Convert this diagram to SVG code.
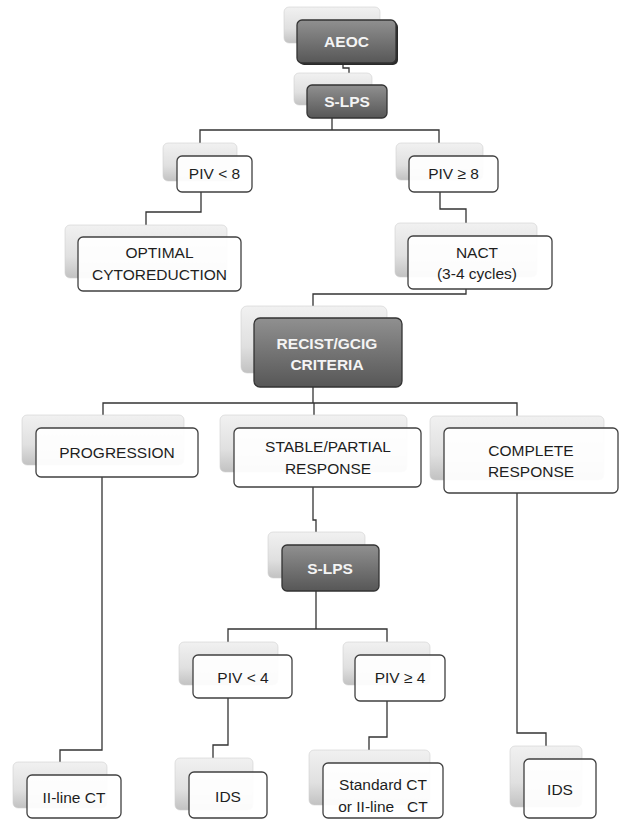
<svg xmlns="http://www.w3.org/2000/svg" width="621" height="820" viewBox="0 0 621 820">
<defs>
<linearGradient id="gShadow" x1="0" y1="0" x2="0" y2="1">
<stop offset="0" stop-color="#f1f1f1"/>
<stop offset="0.6" stop-color="#e0e0e0"/>
<stop offset="1" stop-color="#c2c2c2"/>
</linearGradient>
<linearGradient id="gDark" x1="0" y1="0" x2="0" y2="1">
<stop offset="0" stop-color="#909090"/>
<stop offset="1" stop-color="#575757"/>
</linearGradient>
</defs>
<style>
.sh{fill:url(#gShadow);stroke:#d0d0d0;stroke-width:0.6}
.fr{fill:#ffffff;fill-opacity:0.93;stroke:#404040;stroke-width:1.3}
.dk{fill:url(#gDark);stroke:#333333;stroke-width:1.3}
.t{font-family:"Liberation Sans",Arial,sans-serif;font-size:15.5px;fill:#1e1e1e;text-anchor:middle}
.tw{font-family:"Liberation Sans",Arial,sans-serif;font-size:15.5px;font-weight:bold;fill:#f4f4f4;text-anchor:middle}
.c{fill:none;stroke:#333333;stroke-width:1.3}
</style>
<rect width="621" height="820" fill="#ffffff"/>
<g id="connectors">
<path class="c" d="M343,63 V68 H349 V75"/>
<path class="c" d="M332,118 V130"/>
<path class="c" d="M200,143 V130 H439 V143"/>
<path class="c" d="M201,192 V212 H146 V225"/>
<path class="c" d="M440,192 V209 H466 V223"/>
<path class="c" d="M466,289 V294 H313 V306"/>
<path class="c" d="M313,387 V403"/>
<path class="c" d="M103,415 V403 H517 V416"/>
<path class="c" d="M314,403 V415"/>
<path class="c" d="M102,477 V750 H60 V762"/>
<path class="c" d="M313,487 V520 H316 V532"/>
<path class="c" d="M316,591 V629"/>
<path class="c" d="M228,642 V629 H387 V642"/>
<path class="c" d="M228,698 V745 H213 V758"/>
<path class="c" d="M387,701 V737 H369 V750"/>
<path class="c" d="M517,493 V733 H546 V746"/>
</g>
<g id="aeoc">
<rect class="sh" x="284" y="7" width="96" height="36" rx="5"/>
<rect x="299" y="22" width="99" height="43" rx="5" fill="#2a2a2a"/>
<rect class="dk" x="297" y="20" width="99" height="43" rx="5"/>
<text class="tw" x="346.5" y="47">AEOC</text>
</g>
<g id="slps1">
<rect class="sh" x="294" y="73" width="78" height="32" rx="5"/>
<rect class="dk" x="307" y="85" width="80" height="33" rx="5"/>
<text class="tw" x="347" y="107">S-LPS</text>
</g>
<g id="piv-lt8">
<rect class="sh" x="163" y="143" width="74" height="38" rx="5"/>
<rect class="fr" x="177" y="156" width="75" height="36" rx="5"/>
<text class="t" x="214.5" y="179">PIV &lt; 8</text>
</g>
<g id="piv-ge8">
<rect class="sh" x="396" y="143" width="87" height="37" rx="5"/>
<rect class="fr" x="409" y="156" width="89" height="36" rx="5"/>
<text class="t" x="453.5" y="179">PIV ≥ 8</text>
</g>
<g id="optimal">
<rect class="sh" x="65" y="225" width="162" height="53" rx="5"/>
<rect class="fr" x="78" y="237" width="163" height="54" rx="5"/>
<text class="t" x="159.5" y="258">OPTIMAL</text>
<text class="t" x="159.5" y="280">CYTOREDUCTION</text>
</g>
<g id="nact">
<rect class="sh" x="395" y="223" width="142" height="54" rx="5"/>
<rect class="fr" x="408" y="236" width="144" height="53" rx="5"/>
<text class="t" x="477" y="258">NACT</text>
<text class="t" x="477" y="279">(3-4 cycles)</text>
</g>
<g id="recist">
<rect class="sh" x="241" y="306" width="146" height="67" rx="6"/>
<rect class="dk" x="254" y="318" width="148" height="69" rx="6"/>
<text class="tw" x="327" y="349">RECIST/GCIG</text>
<text class="tw" x="327" y="370">CRITERIA</text>
</g>
<g id="progression">
<rect class="sh" x="22" y="415" width="162" height="50" rx="5"/>
<rect class="fr" x="36" y="428" width="162" height="49" rx="5"/>
<text class="t" x="117" y="458">PROGRESSION</text>
</g>
<g id="stable">
<rect class="sh" x="220" y="415" width="187" height="57" rx="5"/>
<rect class="fr" x="234" y="428" width="187" height="59" rx="5"/>
<text class="t" x="328" y="452">STABLE/PARTIAL</text>
<text class="t" x="328" y="474">RESPONSE</text>
</g>
<g id="complete">
<rect class="sh" x="430" y="416" width="174" height="64" rx="5"/>
<rect class="fr" x="444" y="428" width="174" height="65" rx="5"/>
<text class="t" x="531" y="456">COMPLETE</text>
<text class="t" x="531" y="477">RESPONSE</text>
</g>
<g id="slps2">
<rect class="sh" x="268" y="532" width="97" height="46" rx="5"/>
<rect class="dk" x="282" y="545" width="97" height="46" rx="5"/>
<text class="tw" x="330" y="574">S-LPS</text>
</g>
<g id="piv-lt4">
<rect class="sh" x="179" y="642" width="99" height="43" rx="5"/>
<rect class="fr" x="193" y="655" width="99" height="43" rx="5"/>
<text class="t" x="243" y="683">PIV &lt; 4</text>
</g>
<g id="piv-ge4">
<rect class="sh" x="343" y="642" width="87" height="43" rx="5"/>
<rect class="fr" x="355" y="655" width="90" height="46" rx="5"/>
<text class="t" x="400" y="683">PIV ≥ 4</text>
</g>
<g id="iiline">
<rect class="sh" x="13" y="762" width="94" height="46" rx="5"/>
<rect class="fr" x="27" y="775" width="94" height="43" rx="5"/>
<text class="t" x="74" y="803">II-line CT</text>
</g>
<g id="ids1">
<rect class="sh" x="175" y="758" width="78" height="52" rx="5"/>
<rect class="fr" x="189" y="772" width="78" height="46" rx="5"/>
<text class="t" x="228" y="802">IDS</text>
</g>
<g id="standard">
<rect class="sh" x="309" y="750" width="121" height="55" rx="5"/>
<rect class="fr" x="323" y="763" width="120" height="55" rx="5"/>
<text class="t" x="383" y="790">Standard CT</text>
<text class="t" x="383" y="812" xml:space="preserve">or II-line   CT</text>
</g>
<g id="ids2">
<rect class="sh" x="510" y="746" width="72" height="61" rx="5"/>
<rect class="fr" x="524" y="759" width="72" height="59" rx="5"/>
<text class="t" x="560" y="795">IDS</text>
</g>
</svg>
